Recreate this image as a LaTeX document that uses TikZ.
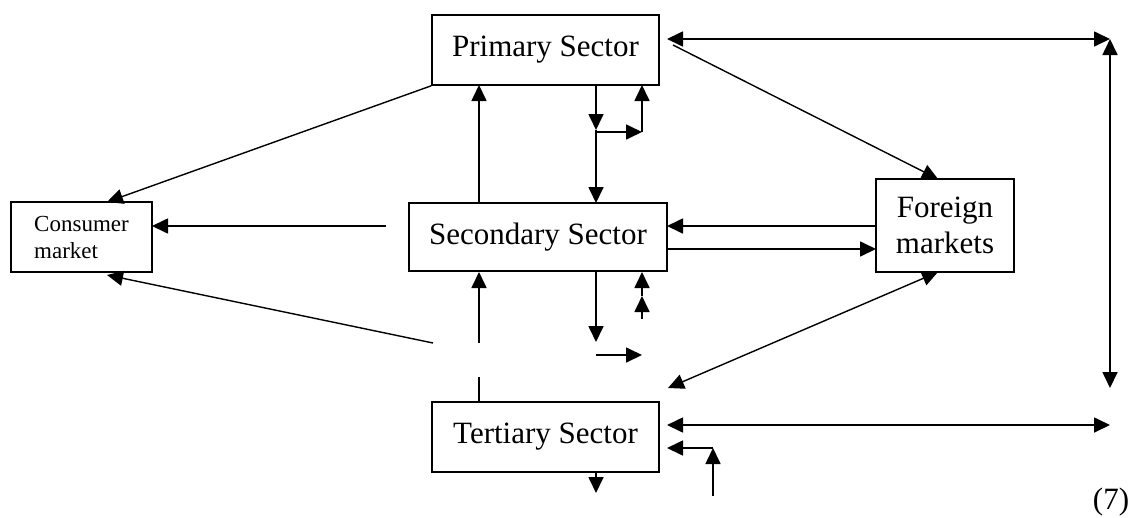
\documentclass[tikz,border=0pt]{standalone}
\usepackage{fontspec}
\setmainfont{Liberation Serif}
\usetikzlibrary{arrows.meta}
\tikzset{
  box/.style={draw, line width=1.6pt, rectangle, inner sep=0pt, font=\fontsize{31}{36}\selectfont, align=center},
  conn/.style={line width=1.7pt},
  thin conn/.style={line width=1.4pt},
  arr/.style={-{Triangle[length=16pt,width=15pt]}},
  darr/.style={{Triangle[length=16pt,width=15pt]}-{Triangle[length=16pt,width=15pt]}},
}
\begin{document}
\begin{tikzpicture}[x=1pt,y=-1pt]
\useasboundingbox (0,0) rectangle (1131,517);
% boxes
\node[box, minimum width=227pt, minimum height=70pt] (prim) at (545.5,50) {Primary Sector};
\node[box, minimum width=258pt, minimum height=68pt] (sec) at (538,237) {Secondary Sector};
\node[box, minimum width=227pt, minimum height=70pt] (ter) at (545.5,437) {Tertiary Sector};
\node[box, minimum width=141pt, minimum height=70pt, align=left, font=\fontsize{23}{27}\selectfont] (cons) at (81.5,237) {Consumer\\market};
\node[box, minimum width=138pt, minimum height=93pt] (for) at (945,225.5) {Foreign\\markets};
\node[inner sep=0pt, font=\fontsize{31}{36}\selectfont] (num) at (1111,502) {(7)};
% coordinates
\coordinate (pR) at (667,39);
\coordinate (tr) at (1110,39);
\coordinate (br) at (1110,388);
\coordinate (pD) at (673,45);
\coordinate (fT) at (938,179);
\coordinate (fB) at (938,272);
\coordinate (tD) at (668,388);
\coordinate (tR) at (667,425);
\coordinate (trr) at (1110,425);
\coordinate (eB) at (713,496);
\coordinate (eC) at (713,448);
\coordinate (eL) at (667,448);
\coordinate (sA) at (667,226);
\coordinate (fA) at (876,226);
\coordinate (sB) at (667,249);
\coordinate (fBx) at (876,249);
\coordinate (p596) at (596,85);
\coordinate (m596) at (596,130);
\coordinate (h596) at (596,132);
\coordinate (s596) at (596,203);
\coordinate (h642) at (642,132);
\coordinate (p642) at (642,85);
\coordinate (s479) at (479,203);
\coordinate (p479) at (479,85);
\coordinate (cT) at (107,202);
\coordinate (sL) at (386,226);
\coordinate (cE) at (152,226);
\coordinate (gL) at (433,343);
\coordinate (cB) at (107,275);
\coordinate (t479) at (479,402);
\coordinate (g1) at (479,377);
\coordinate (g2) at (479,343);
\coordinate (sb479) at (479,272);
\coordinate (sb596) at (596,272);
\coordinate (d596) at (596,342);
\coordinate (hl) at (596,355);
\coordinate (hr) at (642,355);
\coordinate (u1) at (642,319);
\coordinate (u2) at (642,296);
\coordinate (sb642) at (642,272);
\coordinate (tb596) at (596,472);
\coordinate (td596) at (596,493);
% right frame arrows
\draw[conn, darr] (pR) -- (tr);
\draw[conn, darr] (tr) -- (br);
\draw[conn, darr] (tR) -- (trr);
\draw[thin conn, arr] (pD) -- (fT);
\draw[thin conn, darr] (tD) -- (fB);
\draw[conn, arr] (fA) -- (sA);
\draw[conn, arr] (sB) -- (fBx);
% elbow into tertiary
\draw[conn, arr] (eB) -- (eC);
\draw[conn, arr] (eC) -- (eL);
% primary <-> secondary
\draw[conn, arr] (p596) -- (m596);
\draw[conn, arr] (m596) -- (s596);
\draw[conn, arr] (h596) -- (h642);
\draw[conn, arr] (h642) -- (p642);
\draw[conn, arr] (s479) -- (p479);
% to consumer market
\draw[thin conn, arr] (prim.south west) -- (cT);
\draw[conn, arr] (sL) -- (cE);
\draw[thin conn, arr] (gL) -- (cB);
% secondary <-> tertiary
\draw[conn] (t479) -- (g1);
\draw[conn, arr] (g2) -- (sb479);
\draw[conn, arr] (sb596) -- (d596);
\draw[conn, arr] (hl) -- (hr);
\draw[conn, arr] (u1) -- (u2);
\draw[conn, arr] (u2) -- (sb642);
\draw[conn, arr] (tb596) -- (td596);
\end{tikzpicture}
\end{document}
